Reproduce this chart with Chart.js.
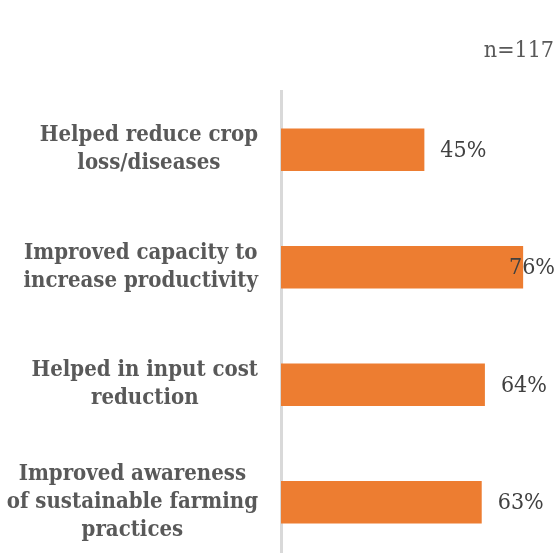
<!DOCTYPE html>
<html><head><meta charset="utf-8">
<script src="https://cdn.jsdelivr.net/npm/chart.js@4"></script>
<style>html,body{margin:0;padding:0;background:#fff;overflow:hidden}canvas{display:block}</style>
</head><body><canvas id="c" width="557" height="561"></canvas>
<script>
// Share of respondents reporting each benefit (%)
const categories = [
  ['Helped reduce crop', 'loss/diseases'],
  ['Improved capacity to', 'increase productivity'],
  ['Helped in input cost', 'reduction'],
  ['Improved awareness', 'of sustainable farming', 'practices']
];
const shares = [45, 76, 64, 63];
const sampleNote = 'n=117';

const SERIF = '"DejaVu Serif Condensed", "DejaVu Serif", serif';
const LABEL_FONT = 'bold 22px ' + SERIF;
const LABEL_LINE = 28;
const LABEL_GAP = 23;

// Category labels: each block sits right against the axis, its lines centred on one another
const categoryLabels = {
  id: 'categoryLabels',
  afterDraw(chart) {
    const ctx = chart.ctx;
    const scale = chart.scales.y;
    ctx.save();
    ctx.font = LABEL_FONT;
    ctx.fillStyle = '#595959';
    ctx.textAlign = 'center';
    ctx.textBaseline = 'middle';
    scale.ticks.forEach((t, i) => {
      const lines = [].concat(chart.data.labels[i]);
      const widest = Math.max(...lines.map(s => ctx.measureText(s).width));
      const cx = scale.right - LABEL_GAP - widest / 2;
      const cy = scale.getPixelForTick(i);
      const y0 = cy - (lines.length - 1) * LABEL_LINE / 2;
      lines.forEach((s, k) => ctx.fillText(s, cx, y0 + k * LABEL_LINE));
    });
    ctx.restore();
  }
};

// Percentage labels beside each bar, kept inside the canvas
const valueLabels = {
  id: 'valueLabels',
  afterDatasetsDraw(chart) {
    const ctx = chart.ctx;
    const meta = chart.getDatasetMeta(0);
    ctx.save();
    ctx.font = '23px ' + SERIF;
    ctx.fillStyle = '#404040';
    ctx.textBaseline = 'middle';
    ctx.textAlign = 'left';
    meta.data.forEach((bar, i) => {
      const txt = shares[i] + '%';
      const w = ctx.measureText(txt).width;
      let x = bar.x + 16;
      if (x + w > chart.width - 2) x = chart.width - 2 - w;
      ctx.fillText(txt, x, bar.y + 1);
    });
    ctx.restore();
  }
};

// Sample size note in the top-right corner
const note = {
  id: 'note',
  afterDraw(chart) {
    const ctx = chart.ctx;
    ctx.save();
    ctx.font = '23px ' + SERIF;
    ctx.fillStyle = '#595959';
    ctx.textAlign = 'right';
    ctx.textBaseline = 'alphabetic';
    ctx.fillText(sampleNote, chart.width - 3, 57);
    ctx.restore();
  }
};

new Chart(document.getElementById('c'), {
  type: 'bar',
  data: {
    labels: categories,
    datasets: [{
      data: shares,
      backgroundColor: '#ED7D31',
      borderWidth: 0,
      barPercentage: 0.6,
      categoryPercentage: 0.6
    }]
  },
  options: {
    indexAxis: 'y',
    responsive: false,
    animation: false,
    layout: { padding: { top: 91, right: 2, left: 0, bottom: 0 } },
    plugins: { legend: { display: false }, tooltip: { enabled: false }, title: { display: false } },
    scales: {
      x: { display: false, min: 0, max: 86 },
      y: {
        afterFit(scale) { scale.width = 281; },
        grid: { display: false, drawTicks: false },
        border: { display: true, color: '#D9D9D9', width: 3 },
        ticks: { display: false }
      }
    }
  },
  plugins: [categoryLabels, valueLabels, note]
});
</script></body></html>
